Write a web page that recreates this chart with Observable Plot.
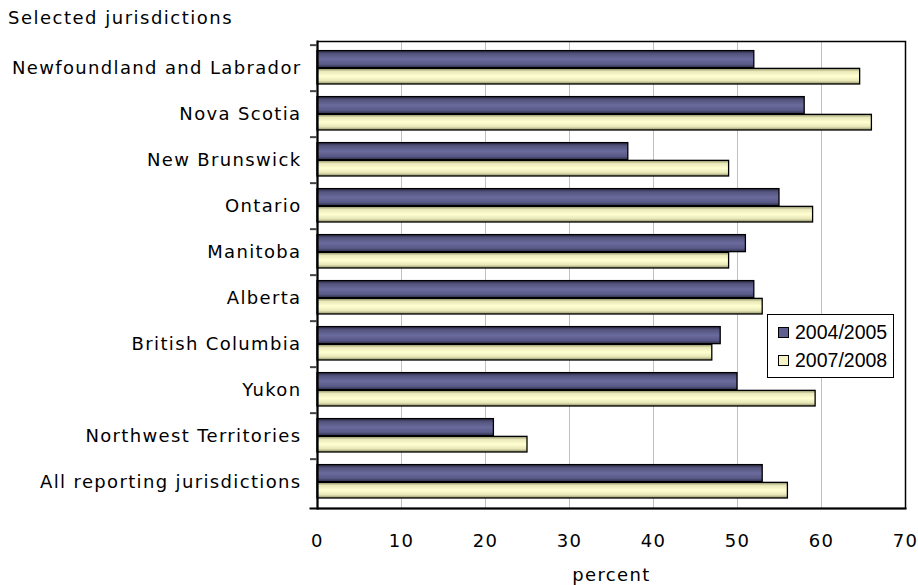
<!DOCTYPE html>
<html>
<head>
<meta charset="utf-8">
<script src="https://cdn.jsdelivr.net/npm/d3@7"></script>
<script src="https://cdn.jsdelivr.net/npm/@observablehq/plot@0.6"></script>
<style>
  html, body { margin: 0; padding: 0; background: #fff; }
  #wrap { position: relative; width: 918px; height: 585px; overflow: hidden; }
  #title { height: 34px; line-height: 36px; padding-left: 8px; font-family: "DejaVu Sans", sans-serif; font-size: 18px; letter-spacing: 1.5px; color: #000; }
  #legend { position: absolute; left: 767px; top: 314px; width: 125px; height: 62px; border: 1px solid #000; background: #fff; font-family: "Liberation Sans", Arial, sans-serif; font-size: 19.5px; color: #000; }
  #legend .row { position: absolute; left: 10px; height: 24px; line-height: 24px; }
  #legend .sw { display: inline-block; width: 9px; height: 9px; border: 1px solid #000; margin-right: 6px; vertical-align: 1px; }
</style>
</head>
<body>
<div id="wrap">
  <div id="title">Selected jurisdictions</div>
  <div id="chart"></div>
  <div id="legend"></div>
</div>
<script>
const categories = [
  "Newfoundland and Labrador",
  "Nova Scotia",
  "New Brunswick",
  "Ontario",
  "Manitoba",
  "Alberta",
  "British Columbia",
  "Yukon",
  "Northwest Territories",
  "All reporting jurisdictions"
];
const seriesNames = ["2004/2005", "2007/2008"];
const values2004 = [52, 58, 37, 55, 51, 52, 48, 50, 21, 53];
const values2007 = [64.6, 66, 49, 59, 49, 53, 47, 59.3, 25, 56];
const xTicks = [0, 10, 20, 30, 40, 50, 60, 70];
const xLabel = "percent";

const rows = categories.flatMap((c, i) => [
  {category: c, series: seriesNames[0], value: values2004[i]},
  {category: c, series: seriesNames[1], value: values2007[i]}
]);

const W = 918, H = 551, mt = 7, mb = 77, ml = 317, mr = 13;
const step = (H - mt - mb) / categories.length;
const fillA = "url(#gradA)", fillB = "url(#gradB)";

const chart = Plot.plot({
  width: W, height: H,
  marginTop: mt, marginBottom: mb, marginLeft: ml, marginRight: mr,
  style: {fontFamily: "DejaVu Sans, sans-serif", fontSize: "18px", letterSpacing: "1.35px", color: "#000", background: "#fff", overflow: "visible"},
  x: {domain: [0, 70], ticks: xTicks, label: null},
  y: {domain: categories, padding: 0, label: null},
  marks: [
    Plot.gridX(xTicks.slice(1, -1), {stroke: "#c0c0c0", strokeOpacity: 1, strokeWidth: 1}),
    Plot.barX(rows.filter(d => d.series === seriesNames[0]), {
      x: "value", y: "category", fill: fillA, stroke: "#000", strokeWidth: 1.3,
      insetTop: step * 0.12, insetBottom: step * 0.5
    }),
    Plot.barX(rows.filter(d => d.series === seriesNames[1]), {
      x: "value", y: "category", fill: fillB, stroke: "#000", strokeWidth: 1.3,
      insetTop: step * 0.5, insetBottom: step * 0.15
    }),
    Plot.frame({stroke: "#000", strokeWidth: 1.5}),
    Plot.frame({anchor: "left", stroke: "#000", strokeWidth: 2}),
    Plot.frame({anchor: "bottom", stroke: "#000", strokeWidth: 2, insetLeft: -7}),
    Plot.axisY({tickSize: 7, text: null, stroke: "#444", strokeWidth: 2, dy: -step / 2}),
    Plot.axisY({tickSize: 0, tickPadding: 16, label: null, fontSize: 18}),
    Plot.axisX({ticks: xTicks, tickSize: 0, tickPadding: 26, label: null, fontSize: 18}),
    Plot.text([xLabel], {text: d => d, frameAnchor: "bottom", dy: 72, fontSize: 18})
  ]
});

document.getElementById("chart").appendChild(chart);

// gradient definitions used by the bars
const ns = "http://www.w3.org/2000/svg";
const defs = document.createElementNS(ns, "defs");
function grad(id, stops) {
  const g = document.createElementNS(ns, "linearGradient");
  g.setAttribute("id", id);
  g.setAttribute("x1", "0"); g.setAttribute("y1", "0");
  g.setAttribute("x2", "0"); g.setAttribute("y2", "1");
  stops.forEach(([o, c]) => {
    const s = document.createElementNS(ns, "stop");
    s.setAttribute("offset", o); s.setAttribute("stop-color", c);
    g.appendChild(s);
  });
  defs.appendChild(g);
}
grad("gradA", [["0", "#2c2c48"], ["0.2", "#55557f"], ["0.5", "#6a6a9c"], ["0.8", "#5a5a88"], ["1", "#2c2c48"]]);
grad("gradB", [["0", "#8a8a64"], ["0.2", "#e8e8b8"], ["0.5", "#ffffd2"], ["0.8", "#e6e6b6"], ["1", "#8a8a64"]]);
chart.insertBefore(defs, chart.firstChild);

// legend
const legend = document.getElementById("legend");
seriesNames.forEach((name, i) => {
  const row = document.createElement("div");
  row.className = "row";
  row.style.top = (5 + i * 28) + "px";
  const sw = document.createElement("span");
  sw.className = "sw";
  sw.style.background = i === 0 ? "#5e5e90" : "#f4f4c4";
  row.appendChild(sw);
  row.appendChild(document.createTextNode(name));
  legend.appendChild(row);
});
</script>
</body>
</html>
